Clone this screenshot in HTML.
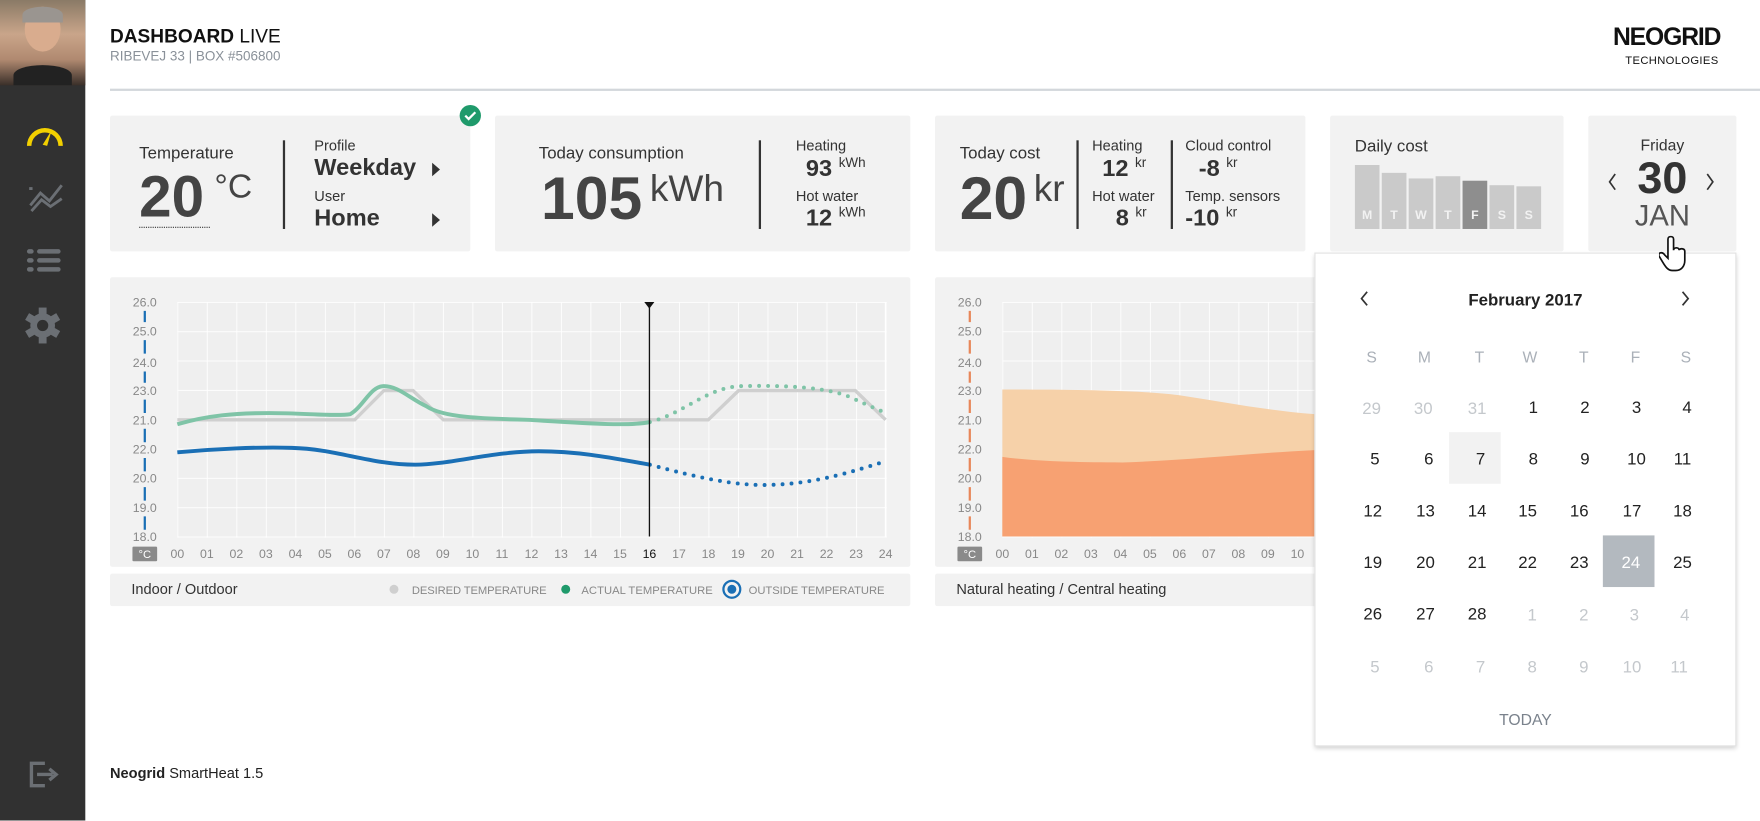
<!DOCTYPE html>
<html><head><meta charset="utf-8"><style>
*{margin:0;padding:0;box-sizing:border-box}
html,body{width:1760px;height:821px;overflow:hidden;background:#fff}
#w{position:absolute;left:0;top:0;width:1568px;height:731px;transform:scale(1.122449);transform-origin:0 0;font-family:"Liberation Sans Narrow","Liberation Sans",sans-serif;color:#333}
.a{position:absolute;white-space:nowrap}
.card{position:absolute;background:#f2f2f2;border-radius:2px}
.lbl{font-size:15px;color:#333}
.big{font-weight:bold;color:#444}
.div{position:absolute;width:1.5px;background:#333}
</style></head><body><div id="w">
<div class="a" style="left:0;top:0;width:76px;height:731px;background:#313131"></div>
<div class="a" style="left:0;top:0;width:76px;height:76px;background:linear-gradient(180deg,#8a7a66,#c9a58a 40%,#b08970 70%,#3a2f29)"></div>
<div class="a" style="left:22px;top:6px;width:32px;height:40px;border-radius:50%;background:#d9ac8e"></div>
<div class="a" style="left:20px;top:6px;width:36px;height:14px;border-radius:50% 50% 0 0;background:#9a9590"></div>
<div class="a" style="left:12px;top:58px;width:52px;height:18px;border-radius:50% 50% 0 0;background:#222"></div>
<svg class="a" style="left:0;top:0" width="76" height="731">
<path d="M26,130 A14,14 0 0 1 54,130" fill="none" stroke="#f2d000" stroke-width="4"/>
<path d="M38,129 L46,116 L42,130Z" fill="#f2d000"/>
<path d="M26,168 l3,0 M27,183 L36,172 L44,179 L55,165 M28,188 L37,178 L45,184 L55,177" stroke="#6b6f74" stroke-width="2.5" fill="none"/>
<g fill="#6b6f74"><rect x="24" y="222" width="6" height="4" rx="2"/><rect x="33" y="222" width="21" height="4" rx="2"/><rect x="24" y="230" width="6" height="4" rx="2"/><rect x="33" y="230" width="21" height="4" rx="2"/><rect x="24" y="238" width="6" height="4" rx="2"/><rect x="33" y="238" width="21" height="4" rx="2"/></g>
<g transform="translate(38,290)" fill="#6b6f74"><circle r="11"/><rect x="-3.5" y="-16" width="7" height="32"/><rect x="-3.5" y="-16" width="7" height="32" transform="rotate(60)"/><rect x="-3.5" y="-16" width="7" height="32" transform="rotate(120)"/><circle r="5" fill="#313131"/></g>
<path d="M40,680 h-12 v20 h12" stroke="#6b6f74" stroke-width="3" fill="none"/><path d="M33,690 h14 M44,685 l6,5 -6,5" stroke="#6b6f74" stroke-width="3" fill="none"/>
</svg>
<div class="a" style="left:98px;top:23px;font-size:17px;color:#111"><b>DASHBOARD</b> LIVE</div>
<div class="a" style="left:98px;top:43px;font-size:12px;color:#8a9199">RIBEVEJ 33 | BOX #506800</div>
<div class="a" style="left:1437px;top:20px;font-size:22px;font-weight:bold;color:#111;letter-spacing:-1px">NEOGRID</div>
<div class="a" style="left:1448px;top:49px;font-size:10px;color:#111;letter-spacing:0.3px">TECHNOLOGIES</div>
<div class="a" style="left:98px;top:79px;width:1470px;height:2px;background:#d3d7db"></div>
<div class="card" style="left:98px;top:103px;width:321px;height:121px"></div>
<div class="a lbl" style="left:124px;top:128px">Temperature</div>
<div class="a big" style="left:124px;top:146px;font-size:52px">20</div>
<div class="a" style="left:191px;top:150px;font-size:30px;color:#444">°C</div>
<div class="a" style="left:124px;top:202px;width:63px;border-top:1.5px dotted #333"></div>
<div class="div" style="left:252px;top:125px;height:79px"></div>
<div class="a" style="left:280px;top:122px;font-size:13px">Profile</div>
<div class="a big" style="left:280px;top:138px;font-size:21px;color:#333">Weekday</div>
<div class="a" style="left:280px;top:167px;font-size:13px">User</div>
<div class="a big" style="left:280px;top:183px;font-size:21px;color:#333">Home</div>
<svg class="a" style="left:380px;top:140px" width="20" height="70"><path d="M5,5 l7,6 -7,6Z M5,50 l7,6 -7,6Z" fill="#333"/></svg>
<svg class="a" style="left:408px;top:92px" width="22" height="22"><circle cx="11" cy="11" r="9.5" fill="#1f9a6b"/><path d="M6.5,11 l3,3 6,-6" stroke="#fff" stroke-width="2" fill="none"/></svg>
<div class="card" style="left:441px;top:103px;width:370px;height:121px"></div>
<div class="a lbl" style="left:480px;top:128px">Today consumption</div>
<div class="a big" style="left:482px;top:146px;font-size:54px">105</div>
<div class="a" style="left:579px;top:149px;font-size:33px;color:#444">kWh</div>
<div class="div" style="left:676px;top:125px;height:79px"></div>
<div class="a" style="left:709px;top:122px;font-size:13px">Heating</div>
<div class="a" style="left:718px;top:138px;font-size:21px;font-weight:bold">93 <span style="font-size:12px;font-weight:normal;vertical-align:8px">kWh</span></div>
<div class="a" style="left:709px;top:167px;font-size:13px">Hot water</div>
<div class="a" style="left:718px;top:182px;font-size:21px;font-weight:bold">12 <span style="font-size:12px;font-weight:normal;vertical-align:8px">kWh</span></div>
<div class="card" style="left:833px;top:103px;width:330px;height:121px"></div>
<div class="a lbl" style="left:855px;top:128px">Today cost</div>
<div class="a big" style="left:855px;top:146px;font-size:54px">20</div>
<div class="a" style="left:921px;top:149px;font-size:33px;color:#444">kr</div>
<div class="div" style="left:959px;top:125px;height:79px"></div>
<div class="a" style="left:973px;top:122px;font-size:13px">Heating</div>
<div class="a" style="left:982px;top:138px;font-size:21px;font-weight:bold">12 <span style="font-size:12px;font-weight:normal;vertical-align:8px">kr</span></div>
<div class="a" style="left:973px;top:167px;font-size:13px">Hot water</div>
<div class="a" style="left:994px;top:182px;font-size:21px;font-weight:bold">8 <span style="font-size:12px;font-weight:normal;vertical-align:8px">kr</span></div>
<div class="div" style="left:1043px;top:125px;height:79px"></div>
<div class="a" style="left:1056px;top:122px;font-size:13px">Cloud control</div>
<div class="a" style="left:1068px;top:138px;font-size:21px;font-weight:bold">-8 <span style="font-size:12px;font-weight:normal;vertical-align:8px">kr</span></div>
<div class="a" style="left:1056px;top:167px;font-size:13px">Temp. sensors</div>
<div class="a" style="left:1056px;top:182px;font-size:21px;font-weight:bold">-10 <span style="font-size:12px;font-weight:normal;vertical-align:8px">kr</span></div>
<div class="card" style="left:1185px;top:103px;width:208px;height:121px"></div>
<div class="a lbl" style="left:1207px;top:122px">Daily cost</div>
<svg class="a" style="left:1207px;top:140px" width="170" height="66" font-family="Liberation Sans Narrow,Liberation Sans,sans-serif" font-size="11" font-weight="bold" fill="#fff">
<g fill="#cacaca"><rect x="0" y="7" width="22" height="57"/><rect x="24" y="14" width="22" height="50"/><rect x="48" y="19" width="22" height="45"/><rect x="72" y="17" width="22" height="47"/><rect x="96" y="21" width="22" height="43" fill="#8e8e8e"/><rect x="120" y="25" width="22" height="39"/><rect x="144" y="26" width="22" height="38"/></g>
<g text-anchor="middle" fill="#f2f2f2"><text x="11" y="55">M</text><text x="35" y="55">T</text><text x="59" y="55">W</text><text x="83" y="55">T</text><text x="107" y="55">F</text><text x="131" y="55">S</text><text x="155" y="55">S</text></g>
</svg>
<div class="card" style="left:1415px;top:103px;width:132px;height:121px"></div>
<div class="a" style="left:1415px;top:121px;width:132px;text-align:center;font-size:14px">Friday</div>
<div class="a big" style="left:1415px;top:137px;width:132px;text-align:center;font-size:40px;color:#333">30</div>
<div class="a" style="left:1415px;top:177px;width:132px;text-align:center;font-size:26px;color:#555">JAN</div>
<svg class="a" style="left:1428px;top:152px" width="104" height="20"><path d="M11,3 l-5,7 5,7 M93,3 l5,7 -5,7" stroke="#333" stroke-width="1.5" fill="none"/></svg>
<div class="card" style="left:98px;top:247px;width:713px;height:258px"></div>
<div class="card" style="left:98px;top:511px;width:713px;height:29px"></div>
<div class="a" style="left:117px;top:517px;font-size:13px">Indoor / Outdoor</div>
<svg class="a" style="left:340px;top:511px" width="470" height="29" font-family="Liberation Sans Narrow,Liberation Sans,sans-serif" font-size="10" fill="#888">
<circle cx="11" cy="14" r="4" fill="#cfcfcf"/><text x="27" y="18" textLength="120">DESIRED TEMPERATURE</text>
<circle cx="164" cy="14" r="4" fill="#1f9a6b"/><text x="178" y="18" textLength="117">ACTUAL TEMPERATURE</text>
<circle cx="312" cy="14" r="7.5" fill="none" stroke="#1a6fb5" stroke-width="2"/><circle cx="312" cy="14" r="4" fill="#1a6fb5"/><text x="327" y="18" textLength="121">OUTSIDE TEMPERATURE</text>
</svg>
<svg class="a" style="left:0;top:0" width="1568" height="731" font-family="Liberation Sans Narrow,Liberation Sans,sans-serif" font-size="11" fill="#888">
<defs><pattern id="g" x="158" y="269" width="26.29" height="26.125" patternUnits="userSpaceOnUse"><path d="M0,0 V27 M0,0 H27" stroke="#fff" stroke-width="1.5" fill="none"/></pattern>
<pattern id="g2" x="893" y="269" width="26.29" height="26.125" patternUnits="userSpaceOnUse"><path d="M0,0 V27 M0,0 H27" stroke="#fff" stroke-width="1.5" fill="none"/></pattern></defs>
<rect x="158" y="269" width="631" height="209" fill="#efefef"/><rect x="158" y="269" width="632" height="210" fill="url(#g)"/>
<line x1="789" y1="269" x2="789" y2="478" stroke="#fff" stroke-width="1.5"/>
<g text-anchor="middle"><text x="129" y="273">26.0</text><text x="129" y="299">25.0</text><text x="129" y="327">24.0</text><text x="129" y="352">23.0</text><text x="129" y="378">21.0</text><text x="129" y="404">22.0</text><text x="129" y="430">20.0</text><text x="129" y="456">19.0</text><text x="129" y="482">18.0</text></g>
<g stroke="#1a6fb5" stroke-width="2"><path d="M129,277v10M129,303v12M129,331v10M129,356v12M129,382v12M129,408v12M129,434v12M129,460v12"/></g>
<rect x="118" y="487" width="22" height="13" rx="1" fill="#8a8a8a"/><text x="129" y="497" text-anchor="middle" fill="#fff" font-size="10">°C</text>
<g text-anchor="middle"><text x="158" y="497">00</text><text x="184.3" y="497">01</text><text x="210.6" y="497">02</text><text x="236.9" y="497">03</text><text x="263.2" y="497">04</text><text x="289.5" y="497">05</text><text x="315.7" y="497">06</text><text x="342" y="497">07</text><text x="368.3" y="497">08</text><text x="394.6" y="497">09</text><text x="420.9" y="497">10</text><text x="447.2" y="497">11</text><text x="473.5" y="497">12</text><text x="499.8" y="497">13</text><text x="526.1" y="497">14</text><text x="552.4" y="497">15</text><text x="578.6" y="497" fill="#111">16</text><text x="604.9" y="497">17</text><text x="631.2" y="497">18</text><text x="657.5" y="497">19</text><text x="683.8" y="497">20</text><text x="710.1" y="497">21</text><text x="736.4" y="497">22</text><text x="762.7" y="497">23</text><text x="789" y="497">24</text></g>
<polyline points="158,374 316,374 342,348 368,348 395,374 631,374 658,348 762,348 789,374" fill="none" stroke="#cfcfcf" stroke-width="3"/>
<path d="M158,378 C185,370 210,368 240,368 C270,368 300,371 312,369 C324,362 330,344 342,344 C355,344 365,355 380,362 C395,372 430,373 470,374 C520,377 560,380 579,376" fill="none" stroke="#7fc4a7" stroke-width="3.5"/>
<path d="M579,376 C610,368 630,345 660,344 C700,343 740,345 760,355 C775,362 783,365 789,368" fill="none" stroke="#7fc4a7" stroke-width="3.5" stroke-dasharray="0 8" stroke-linecap="round"/>
<path d="M158,403 C190,400 230,398 260,399 C300,400 330,414 370,414 C400,414 440,402 480,402 C520,402 555,410 579,414" fill="none" stroke="#1a6fb5" stroke-width="3.5"/>
<path d="M579,414 C620,425 655,433 685,432 C730,431 765,418 789,411" fill="none" stroke="#1a6fb5" stroke-width="3.5" stroke-dasharray="0 8" stroke-linecap="round"/>
<line x1="578.6" y1="269" x2="578.6" y2="478" stroke="#111" stroke-width="1.2"/><path d="M574,269 h9 l-4.5,6Z" fill="#111"/>
</svg>
<div class="card" style="left:833px;top:247px;width:713px;height:258px"></div>
<div class="card" style="left:833px;top:511px;width:713px;height:29px"></div>
<div class="a" style="left:852px;top:517px;font-size:13px">Natural heating / Central heating</div>
<svg class="a" style="left:0;top:0" width="1568" height="731" font-family="Liberation Sans Narrow,Liberation Sans,sans-serif" font-size="11" fill="#888">
<rect x="893" y="269" width="631" height="209" fill="#efefef"/><rect x="893" y="269" width="632" height="210" fill="url(#g2)"/>
<path d="M893,347 C960,347 1020,348 1050,352 C1090,358 1130,366 1171,369 L1171,478 L893,478Z" fill="#f6cfa4" opacity="0.95"/>
<path d="M893,407 C920,411 960,412 1000,412 C1060,410 1110,404 1171,401 L1171,478 L893,478Z" fill="#f7a172"/>
<g text-anchor="middle"><text x="864" y="273">26.0</text><text x="864" y="299">25.0</text><text x="864" y="327">24.0</text><text x="864" y="352">23.0</text><text x="864" y="378">21.0</text><text x="864" y="404">22.0</text><text x="864" y="430">20.0</text><text x="864" y="456">19.0</text><text x="864" y="482">18.0</text></g>
<g stroke="#e8875a" stroke-width="2"><path d="M864,277v10M864,303v12M864,331v10M864,356v12M864,382v12M864,408v12M864,434v12M864,460v12"/></g>
<rect x="853" y="487" width="22" height="13" rx="1" fill="#8a8a8a"/><text x="864" y="497" text-anchor="middle" fill="#fff" font-size="10">°C</text>
<g text-anchor="middle"><text x="893" y="497">00</text><text x="919.3" y="497">01</text><text x="945.6" y="497">02</text><text x="971.9" y="497">03</text><text x="998.2" y="497">04</text><text x="1024.5" y="497">05</text><text x="1050.7" y="497">06</text><text x="1077" y="497">07</text><text x="1103.3" y="497">08</text><text x="1129.6" y="497">09</text><text x="1155.9" y="497">10</text></g>
</svg>
<div class="a" style="left:1171px;top:225px;width:376px;height:440px;background:#fff;border:1px solid #e2e2e2;box-shadow:0 2px 4px rgba(0,0,0,0.2)"></div>
<svg class="a" style="left:1171px;top:225px" width="376" height="440" font-family="Liberation Sans Narrow,Liberation Sans,sans-serif" font-size="15" text-anchor="middle" fill="#222">
<path d="M47,35 l-5,6 5,6 M328,35 l5,6 -5,6" stroke="#333" stroke-width="1.5" fill="none"/>
<text x="188" y="47" font-weight="bold" font-size="15">February 2017</text>
<g fill="#aab0b8" font-size="14"><text x="51" y="98">S</text><text x="98" y="98">M</text><text x="147" y="98">T</text><text x="192" y="98">W</text><text x="240" y="98">T</text><text x="286" y="98">F</text><text x="331" y="98">S</text></g>
<rect x="120" y="160" width="46" height="46" fill="#f2f2f2"/>
<rect x="257" y="252" width="46" height="46" fill="#b3b9bf"/>
<g fill="#c4c8cc"><text x="51" y="144">29</text><text x="97" y="144">30</text><text x="145" y="144">31</text></g>
<text x="195" y="143">1</text><text x="241" y="143">2</text><text x="287" y="143">3</text><text x="332" y="143">4</text>
<text x="54" y="189">5</text><text x="102" y="189">6</text><text x="148" y="189">7</text><text x="195" y="189">8</text><text x="241" y="189">9</text><text x="287" y="189">10</text><text x="328" y="189">11</text>
<text x="52" y="235">12</text><text x="99" y="235">13</text><text x="145" y="235">14</text><text x="190" y="235">15</text><text x="236" y="235">16</text><text x="283" y="235">17</text><text x="328" y="235">18</text>
<text x="52" y="281">19</text><text x="99" y="281">20</text><text x="145" y="281">21</text><text x="190" y="281">22</text><text x="236" y="281">23</text><text x="282" y="281" fill="#fff">24</text><text x="328" y="281">25</text>
<text x="52" y="327">26</text><text x="99" y="327">27</text><text x="145" y="327">28</text>
<g fill="#c4c8cc"><text x="194" y="328">1</text><text x="240" y="328">2</text><text x="285" y="328">3</text><text x="330" y="328">4</text>
<text x="54" y="374">5</text><text x="102" y="374">6</text><text x="148" y="374">7</text><text x="194" y="374">8</text><text x="240" y="374">9</text><text x="283" y="374">10</text><text x="325" y="374">11</text></g>
<text x="188" y="421" fill="#7a828c" font-size="14">TODAY</text>
</svg>
<svg class="a" style="left:1478px;top:210px" width="28" height="32"><path d="M8,3 c0,-3 5,-3 5,0 v10 c0,-3 5,-3 5,0 c0,-2 5,-2 5,1 v8 c0,5 -3,9 -8,9 h-3 c-4,0 -6,-3 -9,-8 l-3,-5 c-1,-3 3,-4 5,-1 l3,3Z" fill="#fff" stroke="#111" stroke-width="1.5"/></svg>
<div class="a" style="left:98px;top:681px;font-size:13px;color:#222"><b>Neogrid</b> SmartHeat 1.5</div>
</div></body></html>
